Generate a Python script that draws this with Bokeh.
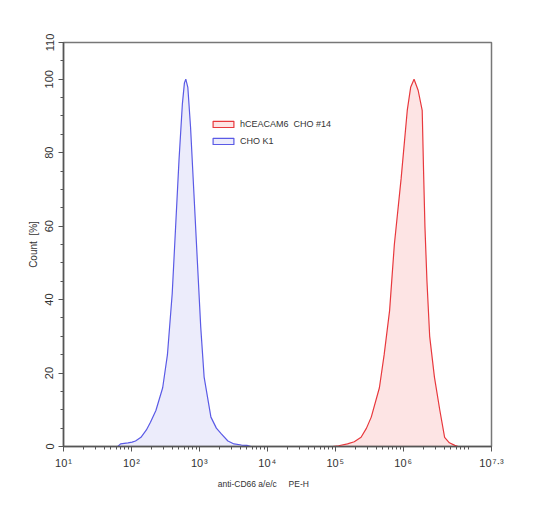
from bokeh.plotting import figure
from bokeh.models import FixedTicker, CustomJSTickFormatter, Legend, LegendItem
from bokeh.embed import file_html
from bokeh.resources import INLINE

# ---- data (x as log10 decade positions, y as Count %) ----
blue_logx = [1.80, 1.84, 1.95, 2.01, 2.06, 2.14, 2.22, 2.28, 2.36, 2.46, 2.53, 2.60, 2.65, 2.70,
             2.75, 2.78, 2.80, 2.83, 2.87, 2.92, 2.97, 3.02, 3.07, 3.17, 3.25, 3.32, 3.42, 3.51,
             3.62, 3.70, 3.76]
blue_y = [0, 0.7, 1.0, 1.2, 1.5, 2.5, 4.5, 6.6, 9.8, 16, 25, 41.6, 59.7, 77.9,
          93.3, 99, 100, 97.8, 87, 68.8, 50.6, 32.5, 18.9, 8, 5, 3.5, 1.5, 0.7,
          0.4, 0.3, 0]

red_logx = [4.96, 5.05, 5.18, 5.28, 5.38, 5.46, 5.53, 5.65, 5.72, 5.80, 5.87, 5.97, 6.06, 6.11,
            6.16, 6.22, 6.28, 6.30, 6.32, 6.35, 6.39, 6.46, 6.54, 6.61, 6.68, 6.76, 6.81]
red_y = [0, 0.2, 0.7, 1.3, 2.5, 5, 8, 16, 25, 37, 55, 73, 91.5, 97.8,
         100, 97, 91.5, 75, 60, 45, 30, 18.9, 9.8, 2.5, 1.0, 0.3, 0]

series_names = ["hCEACAM6\u00a0\u00a0CHO #14", "CHO K1"]

x_tick_exps = [1, 2, 3, 4, 5, 6, 7.3]
x_tick_labels = ["10\u200a\u00b9", "10\u200a\u00b2", "10\u200a\u00b3", "10\u200a\u2074",
                 "10\u200a\u2075", "10\u200a\u2076", "10\u200a\u2077\u00b7\u00b3"]
y_ticks = [0, 20, 40, 60, 80, 100, 110]

x_title = "anti-CD66 a/e/c" + "\u00a0" * 5 + "PE-H" + "\u00a0" * 12
y_title = "Count\u00a0\u00a0[%]"

FONT = "Liberation Sans"
TXT = "#333333"

p = figure(width=528, height=509, output_backend="svg", toolbar_location=None,
           x_axis_type="log", x_range=(10, 10 ** 7.3), y_range=(0, 110),
           min_border_left=63, min_border_top=42, min_border_right=37, min_border_bottom=63)
p.grid.visible = False
p.outline_line_color = "#777777"
p.outline_line_width = 1.5
p.background_fill_color = "white"
p.border_fill_color = "white"

red_x = [10 ** v for v in red_logx]
blue_x = [10 ** v for v in blue_logx]

r_red = p.patch(red_x, red_y, fill_color="#f04848", fill_alpha=0.15,
                line_color="#e8383d", line_width=1.2)
r_blue = p.patch(blue_x, blue_y, fill_color="#6060e0", fill_alpha=0.12,
                 line_color="#5a5ae6", line_width=1.2)

# x axis
minor = [k * 10 ** n for n in range(1, 7) for k in range(2, 10)] + [2e7]
p.xaxis.ticker = FixedTicker(ticks=[10 ** e for e in x_tick_exps], minor_ticks=minor)
p.xaxis.formatter = CustomJSTickFormatter(args=dict(labels=x_tick_labels, exps=x_tick_exps), code="""
const e = Math.log10(tick);
let b = 0;
for (let i = 0; i < exps.length; i++) { if (Math.abs(exps[i] - e) < Math.abs(exps[b] - e)) b = i; }
return labels[b];
""")
p.xaxis.axis_label = x_title

# y axis
p.yaxis.ticker = FixedTicker(ticks=y_ticks, minor_ticks=list(range(0, 111, 5)))
p.yaxis.major_label_orientation = "vertical"
p.yaxis.axis_label = y_title

for ax in (p.xaxis[0], p.yaxis[0]):
    ax.axis_line_color = "#555555"
    ax.axis_line_width = 1.5
    ax.major_tick_line_color = "#555555"
    ax.minor_tick_line_color = "#555555"
    ax.major_tick_out = 5
    ax.major_tick_in = 0
    ax.minor_tick_out = 3
    ax.minor_tick_in = 0
    ax.major_label_text_font = FONT
    ax.major_label_text_font_size = "11px"
    ax.major_label_text_color = TXT
    ax.axis_label_text_font = FONT
    ax.axis_label_text_font_style = "normal"
    ax.axis_label_text_color = TXT

p.xaxis.axis_label_text_font_size = "8.5px"
p.xaxis.axis_label_standoff = 7
p.yaxis.axis_label_text_font_size = "10px"
p.yaxis.axis_label_standoff = 4

legend = Legend(items=[LegendItem(label=series_names[0], renderers=[r_red]),
                       LegendItem(label=series_names[1], renderers=[r_blue])],
                location=(147, 298))
legend.background_fill_alpha = 0
legend.border_line_alpha = 0
legend.padding = 0
legend.margin = 0
legend.spacing = 3
legend.glyph_width = 26
legend.glyph_height = 8
legend.label_height = 14
legend.label_standoff = 4
legend.label_text_font = FONT
legend.label_text_font_size = "9px"
legend.label_text_color = TXT
p.add_layout(legend)

open("out.html", "w").write(file_html(p, INLINE))
